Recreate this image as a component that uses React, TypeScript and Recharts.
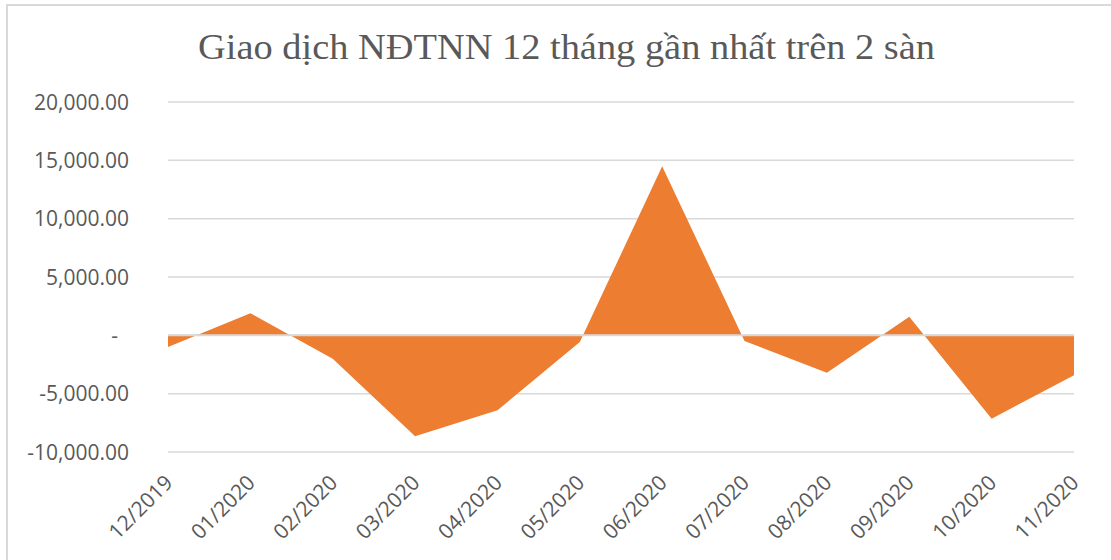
import React from "react";
import { AreaChart, Area, XAxis, YAxis, CartesianGrid, ReferenceLine } from "recharts";

const months = ["12/2019","01/2020","02/2020","03/2020","04/2020","05/2020","06/2020","07/2020","08/2020","09/2020","10/2020","11/2020"];
const netValues = [-1000, 1900, -2000, -8640, -6430, -570, 14490, -490, -3200, 1600, -7140, -3430];
const yTicks = [-10000, -5000, 0, 5000, 10000, 15000, 20000];
const title = "Giao dịch NĐTNN 12 tháng gần nhất trên 2 sàn";

const data = months.map((m, i) => ({ month: m, value: netValues[i] }));

const fmt = (v: number) =>
  v === 0 ? "-" : v.toLocaleString("en-US", { minimumFractionDigits: 2, maximumFractionDigits: 2 });

const TICK_FONT = "'Open Sans', sans-serif";

const YTick = (props: any) => {
  const { y, payload } = props;
  const v = payload.value;
  return (
    <text x={v === 0 ? 118 : 129} y={y} dy={7.5} textAnchor="end" fill="#595959" fontSize={21} fontFamily={TICK_FONT}>
      {fmt(v)}
    </text>
  );
};

const XTick = (props: any) => {
  const { x, y, payload } = props;
  const ax = x + 6;
  const ay = y + 24;
  return (
    <text x={ax} y={ay} textAnchor="end" fill="#595959" fontSize={21} fontFamily={TICK_FONT} transform={`rotate(-45, ${ax}, ${ay})`}>
      {payload.value}
    </text>
  );
};

export default function App() {
  return (
    <div style={{ position: "relative", width: 1111, height: 560, overflow: "hidden", background: "#fff" }}>
      <style>{`body{margin:0}`}</style>
      <div style={{ position: "absolute", left: 6, top: 4, width: 1200, height: 700, borderLeft: "2px solid #d9d9d9", borderTop: "2px solid #d9d9d9" }} />
      <svg width={1111} height={80} style={{ position: "absolute", left: 0, top: 0 }}>
        <text x={198} y={59} fill="#595959" fontSize={36} fontFamily="'Liberation Serif', serif" textLength={737} lengthAdjust="spacingAndGlyphs">
          {title}
        </text>
      </svg>
      <div style={{ position: "absolute", left: 0, top: 0 }}>
        <AreaChart width={1111} height={560} data={data} margin={{ top: 102, right: 37, bottom: 0, left: 0 }}>
          <CartesianGrid horizontal vertical={false} stroke="#d9d9d9" strokeWidth={1.5} />
          <XAxis dataKey="month" axisLine={false} tickLine={false} height={108} interval={0} tick={<XTick />} />
          <YAxis domain={[-10000, 20000]} ticks={yTicks} axisLine={false} tickLine={false} width={168} tick={<YTick />} interval={0} />
          <Area type="linear" dataKey="value" stroke="none" fill="#ed7d31" fillOpacity={1} isAnimationActive={false} />
          <ReferenceLine y={0} stroke="#d9d9d9" strokeWidth={2} />
        </AreaChart>
      </div>
    </div>
  );
}
